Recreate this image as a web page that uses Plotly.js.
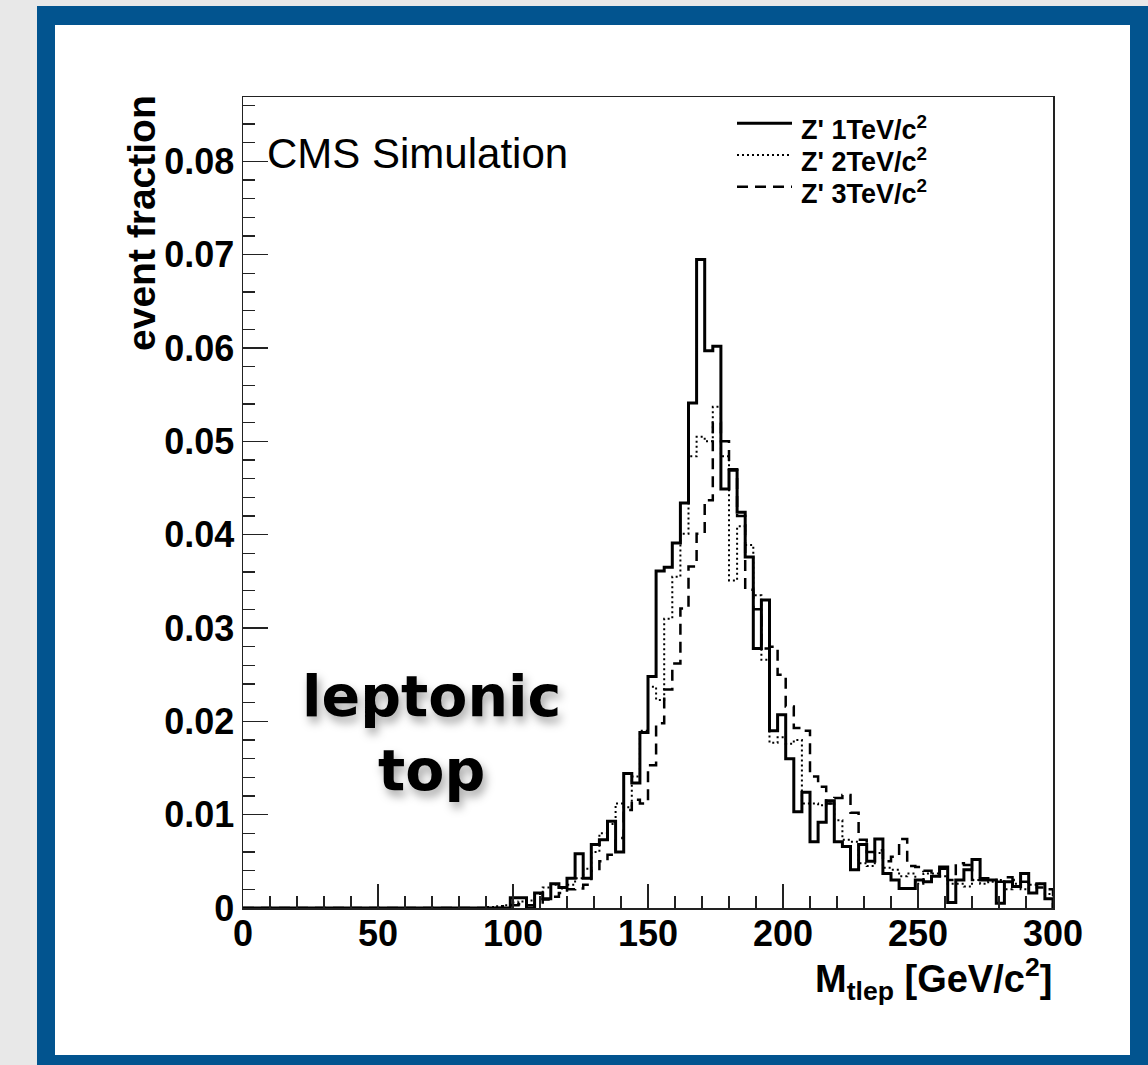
<!DOCTYPE html>
<html><head><meta charset="utf-8">
<script src="https://cdn.plot.ly/plotly-3.0.1.min.js"></script>
<style>
html,body{margin:0;padding:0;background:#e8e8e8;width:1148px;height:1065px;overflow:hidden;}
#frame{position:absolute;left:37px;top:6px;width:1111px;height:1059px;background:#02548f;}
#chart{position:absolute;left:55px;top:25px;width:1075px;height:1030px;background:#fff;}
</style></head><body>
<div id="frame"></div><div id="chart"></div>
<script>
// Histogram binning: 100 bins of 3 GeV/c^2 from 0 to 300
const binWidth = 3;
const xMin = 0;
const xMax = 300;

const seriesNames = ["Z' 1TeV/c<sup>2</sup>", "Z' 2TeV/c<sup>2</sup>", "Z' 3TeV/c<sup>2</sup>"];

// event fraction per bin, Z' 1 TeV (solid)
const z1TeV = [
0,0,0,0,0,0,0,0,0,0, 0,0,0,0,0,0,0,0,0,0, 0,0,0,0,0,0,0,0,0,0, 0,0,0,
0.0011,0.0011,0.0000,0.0016,0.0010,0.0026,0.0022,0.0032,0.0058,0.0032,
0.0068,0.0073,0.0093,0.0060,0.0144,0.0134,0.0188,0.0248,0.0361,0.0365,
0.0391,0.0434,0.0541,0.0695,0.0597,0.0602,0.0449,0.0469,0.0424,0.0376,
0.0278,0.0330,0.0190,0.0207,0.0160,0.0103,0.0124,0.0071,0.0092,0.0115,
0.0071,0.0066,0.0041,0.0068,0.0050,0.0074,0.0037,0.0030,0.0021,0.0021,
0.0030,0.0028,0.0034,0.0044,0.0006,0.0030,0.0041,0.0052,0.0030,0.0030,
0.0005,0.0028,0.0023,0.0037,0.0016,0.0026,0.0010
];
// Z' 2 TeV (dotted)
const z2TeV = [
0,0,0,0,0,0,0,0,0,0, 0,0,0,0,0,0,0,0,0,0, 0,0,0,0,0,0,0,0,0,0,
0.0001,0.0002,0.0003,0.0006,0.0007,0.0008,0.0015,0.0022,0.0025,0.0021,
0.0025,0.0032,0.0042,0.0060,0.0080,0.0090,0.0112,0.0108,0.0141,0.0190,
0.0237,0.0223,0.0310,0.0355,0.0401,0.0484,0.0505,0.0500,0.0537,0.0484,
0.0351,0.0409,0.0389,0.0335,0.0266,0.0177,0.0183,0.0176,0.0180,0.0112,
0.0112,0.0110,0.0112,0.0094,0.0073,0.0071,0.0048,0.0045,0.0059,0.0043,
0.0041,0.0034,0.0037,0.0026,0.0037,0.0037,0.0034,0.0026,0.0026,0.0023,
0.0030,0.0026,0.0028,0.0030,0.0020,0.0026,0.0020,0.0025,0.0026,0.0015
];
// Z' 3 TeV (dashed)
const z3TeV = [
0,0,0,0,0,0,0,0,0,0, 0,0,0,0,0,0,0,0,0,0, 0,0,0,0,0,0,0,0,0,0, 0,0,
0.0002,0.0003,0.0004,0.0003,0.0006,0.0009,0.0012,0.0016,
0.0020,0.0021,0.0025,0.0040,0.0050,0.0057,0.0075,0.0105,0.0116,0.0112,
0.0153,0.0198,0.0234,0.0262,0.0321,0.0366,0.0401,0.0437,0.0520,0.0500,
0.0470,0.0420,0.0341,0.0320,0.0278,0.0280,0.0250,0.0216,0.0193,0.0190,
0.0141,0.0130,0.0112,0.0118,0.0121,0.0102,0.0073,0.0060,0.0062,0.0050,
0.0055,0.0074,0.0045,0.0044,0.0040,0.0038,0.0042,0.0030,0.0048,0.0046,
0.0030,0.0032,0.0030,0.0028,0.0033,0.0030,0.0028,0.0027,0.0022,0.0020
];

const xTickVals = [0, 50, 100, 150, 200, 250, 300];
const yTickVals = [0, 0.01, 0.02, 0.03, 0.04, 0.05, 0.06, 0.07, 0.08];
const yTickText = ["0", "0.01", "0.02", "0.03", "0.04", "0.05", "0.06", "0.07", "0.08"];

function stepXY(vals) {
  const x = [xMin], y = [0];
  for (let i = 0; i < vals.length; i++) { x.push(xMin + i * binWidth); y.push(vals[i]); }
  x.push(xMin + vals.length * binWidth); y.push(vals[vals.length - 1]);
  x.push(xMin + vals.length * binWidth); y.push(0);
  return {x, y};
}

const styles = [
  {width: 3, dash: 'solid'},
  {width: 2, dash: '2px,3px'},
  {width: 2.5, dash: '11px,7px'}
];
const allSeries = [z1TeV, z2TeV, z3TeV];

const traces = allSeries.map((vals, k) => {
  const s = stepXY(vals);
  return {x: s.x, y: s.y, type: 'scatter', mode: 'lines', name: seriesNames[k],
    line: {shape: 'hv', color: '#000', width: styles[k].width, dash: styles[k].dash},
    showlegend: false, hoverinfo: 'skip'};
});

const FONT = 'Liberation Sans, Arial, Helvetica, sans-serif';
const toPX = X => (X - 243) / 810;
const toPY = Y => (908 - Y) / 811;

const legendRowsY = [123.3, 155, 186.7];
const shapes = [];
const annotations = [];
legendRowsY.forEach((yy, k) => {
  shapes.push({type: 'line', xref: 'paper', yref: 'paper', x0: toPX(737), x1: toPX(792), y0: toPY(yy), y1: toPY(yy),
    line: {color: '#000', width: styles[k].width, dash: styles[k].dash}});
  annotations.push({xref: 'paper', yref: 'paper', x: toPX(799), y: toPY(yy + 5), xanchor: 'left', yanchor: 'middle',
    text: seriesNames[k], showarrow: false, font: {family: FONT, size: 27, weight: 'bold', color: '#000'}});
});

annotations.push({xref: 'paper', yref: 'paper', x: toPX(265), y: toPY(153), xanchor: 'left', yanchor: 'middle',
  text: 'CMS Simulation', showarrow: false, font: {family: FONT, size: 42, color: '#000'}});

annotations.push({xref: 'paper', yref: 'paper', x: toPX(142), y: toPY(93), xanchor: 'center', yanchor: 'top',
  text: 'event fraction', textangle: -90, showarrow: false, font: {family: FONT, size: 39, weight: 'bold', color: '#000'}});

annotations.push({xref: 'paper', yref: 'paper', x: toPX(1054), y: toPY(950), xanchor: 'right', yanchor: 'top',
  text: 'M<sub>tlep</sub> [GeV/c<sup>2</sup>]', showarrow: false, font: {family: FONT, size: 38, weight: 'bold', color: '#000'}});

annotations.push({xref: 'paper', yref: 'paper', x: toPX(431), y: toPY(733), xanchor: 'center', yanchor: 'middle',
  text: 'leptonic<br>top', showarrow: false,
  font: {family: 'DejaVu Sans, Lato, sans-serif', size: 57, weight: 'bold', color: '#000', shadow: '3px 6px 10px rgba(0,0,0,0.35)'}});

const axisCommon = {
  showline: true, mirror: true, linecolor: '#222', linewidth: 1.5,
  ticks: 'inside', tickcolor: '#222', tickwidth: 1.5, ticklen: 24,
  showgrid: false, zeroline: false,
  tickfont: {family: FONT, size: 36, weight: 'bold', color: '#000'},
  fixedrange: true
};

const layout = {
  width: 1075, height: 1030,
  margin: {l: 188, r: 77, t: 72, b: 147, pad: 0},
  paper_bgcolor: '#fff', plot_bgcolor: '#fff',
  showlegend: false,
  font: {family: FONT},
  xaxis: Object.assign({}, axisCommon, {
    range: [xMin, xMax], tickmode: 'array', tickvals: xTickVals, ticklabelstandoff: -7,
    minor: {dtick: 10, tick0: 0, ticks: 'inside', ticklen: 12, tickcolor: '#222', tickwidth: 1.5, showgrid: false}
  }),
  yaxis: Object.assign({}, axisCommon, {
    range: [0, 0.0869], tickmode: 'array', tickvals: yTickVals, ticktext: yTickText, ticklen: 25,
    minor: {dtick: 0.002, tick0: 0, ticks: 'inside', ticklen: 12, tickcolor: '#222', tickwidth: 1.5, showgrid: false}
  }),
  shapes: shapes,
  annotations: annotations
};

Plotly.newPlot('chart', traces, layout, {displayModeBar: false, staticPlot: true});
</script>
</body></html>
